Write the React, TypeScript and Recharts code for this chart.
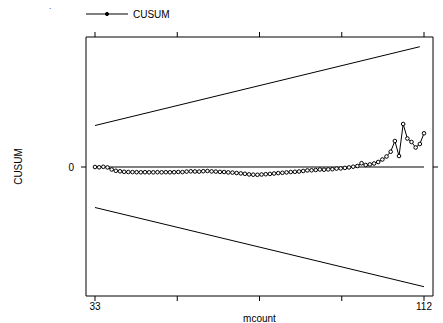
import { ComposedChart, Line, XAxis, YAxis } from "recharts";

// mcount values along the x axis
const MCOUNT = [
  33, 34, 35, 36, 37, 38, 39, 40, 41, 42, 43, 44, 45, 46, 47, 48, 49, 50, 51, 52,
  53, 54, 55, 56, 57, 58, 59, 60, 61, 62, 63, 64, 65, 66, 67, 68, 69, 70, 71, 72,
  73, 74, 75, 76, 77, 78, 79, 80, 81, 82, 83, 84, 85, 86, 87, 88, 89, 90, 91, 92,
  93, 94, 95, 96, 97, 98, 99, 100, 101, 102, 103, 104, 105, 106, 107, 108, 109, 110, 111, 112,
];

// CUSUM value at each mcount
const CUSUM = [
  0, -0.3, 0.2, -0.4, -2.5, -3.8, -4.3, -4.8, -5.0, -5.1, -5.2, -5.3, -5.2, -5.3, -5.3, -5.2, -5.3, -5.2, -5.3, -5.2,
  -5.0, -5.1, -4.6, -4.3, -4.5, -4.6, -4.2, -4.0, -4.4, -4.6, -4.9, -5.0, -5.4, -5.6, -6.0, -6.4, -6.8, -7.4, -7.7, -7.8,
  -7.5, -7.2, -6.9, -6.5, -6.1, -5.8, -5.4, -5.0, -4.8, -4.5, -4.0, -3.4, -3.3, -3.0, -2.5, -2.7, -2.4, -2.2, -1.6, -1.4,
  -0.9, -0.4, 0.3, 1.0, 3.8, 2.0, 2.6, 3.5, 5.0, 7.5, 10.5, 15.3, 26.0, 11.0, 43.0, 28.5, 25.0, 19.5, 23.0, 33.7,
];

// confidence bounds (straight lines)
const UPPER_X = [33, 111];
const UPPER = [41.5, 120.3];
const LOWER_X = [33, 112];
const LOWER = [-40.5, -119.7];
const ZERO_X = [33, 112];
const ZERO = [0, 0];

const X_TICKS = [33, 52.75, 72.5, 92.25, 112];
const X_LABELED = [33, 112];
const Y_TICKS = [0];

const FONT = "'Liberation Sans', Arial, Helvetica, sans-serif";
const INK = "#000";

const toRows = (xs: number[], ys: number[]) => xs.map((m, i) => ({ m, v: ys[i] }));

export default function App() {
  const cusumData = toRows(MCOUNT, CUSUM);
  const upperData = toRows(UPPER_X, UPPER);
  const lowerData = toRows(LOWER_X, LOWER);
  const zeroData = toRows(ZERO_X, ZERO);

  return (
    <div
      style={{
        position: "absolute",
        left: 0,
        top: 0,
        width: 443,
        height: 323,
        background: "#fff",
        fontFamily: FONT,
      }}
    >
      {/* stray dot in the corner of the original */}
      <div style={{ position: "absolute", left: 49, top: 2, fontSize: 8, color: "#000" }}>.</div>

      {/* Legend */}
      <div style={{ position: "absolute", left: 86, top: 7, height: 14, display: "flex", alignItems: "center" }}>
        <svg width={43} height={14} style={{ display: "block" }}>
          <line x1={0} y1={7} x2={42} y2={7} stroke={INK} strokeWidth={1} />
          <circle cx={21} cy={7} r={1.6} fill={INK} stroke={INK} />
        </svg>
        <span style={{ fontSize: 10, marginLeft: 4, color: "#000" }}>CUSUM</span>
      </div>

      <ComposedChart width={443} height={323} margin={{ top: 0, right: 0, bottom: 0, left: 0 }}>
        <XAxis
          xAxisId="b"
          type="number"
          dataKey="m"
          domain={[30.84, 114.16]}
          allowDataOverflow
          ticks={X_TICKS}
          interval={0}
          height={27}
          tickSize={5}
          tickMargin={2}
          stroke={INK}
          tick={{ fontSize: 10, fill: "#000", fontFamily: FONT }}
          tickFormatter={(v: number) => (X_LABELED.includes(v) ? String(v) : "")}
          label={{ value: "mcount", position: "insideBottom", offset: 1, fontSize: 10, fill: "#000", fontFamily: FONT }}
        />
        <XAxis
          xAxisId="t"
          orientation="top"
          type="number"
          dataKey="m"
          domain={[30.84, 114.16]}
          allowDataOverflow
          ticks={X_TICKS}
          interval={0}
          height={37}
          tickSize={5}
          stroke={INK}
          tickFormatter={() => ""}
        />
        <YAxis
          yAxisId="l"
          type="number"
          domain={[-129, 130]}
          allowDataOverflow
          ticks={Y_TICKS}
          width={86}
          tickSize={5}
          tickMargin={7}
          stroke={INK}
          tick={{ fontSize: 10, fill: "#000", fontFamily: FONT }}
          label={(props: any) => {
            const vb = props.viewBox || { x: 0, y: 37, width: 86, height: 259 };
            const cx = vb.x + 18;
            const cy = vb.y + vb.height / 2;
            return (
              <text
                x={cx}
                y={cy}
                transform={`rotate(-90 ${cx} ${cy})`}
                textAnchor="middle"
                dominantBaseline="central"
                fontSize={10}
                fontFamily={FONT}
                fill="#000"
              >
                CUSUM
              </text>
            );
          }}
        />
        <YAxis
          yAxisId="r"
          orientation="right"
          type="number"
          domain={[-129, 130]}
          allowDataOverflow
          ticks={Y_TICKS}
          width={10}
          tickSize={5}
          stroke={INK}
          tickFormatter={() => ""}
        />

        <Line
          xAxisId="b"
          yAxisId="l"
          data={upperData}
          dataKey="v"
          stroke={INK}
          strokeWidth={1}
          dot={false}
          isAnimationActive={false}
        />
        <Line
          xAxisId="b"
          yAxisId="l"
          data={lowerData}
          dataKey="v"
          stroke={INK}
          strokeWidth={1}
          dot={false}
          isAnimationActive={false}
        />
        <Line
          xAxisId="b"
          yAxisId="l"
          data={zeroData}
          dataKey="v"
          stroke={INK}
          strokeWidth={1}
          dot={false}
          isAnimationActive={false}
        />
        <Line
          xAxisId="b"
          yAxisId="l"
          data={cusumData}
          dataKey="v"
          name="CUSUM"
          type="linear"
          stroke={INK}
          strokeWidth={1}
          dot={{ r: 1.8, fill: "#fff", stroke: INK, strokeWidth: 1 }}
          isAnimationActive={false}
        />
      </ComposedChart>
    </div>
  );
}
